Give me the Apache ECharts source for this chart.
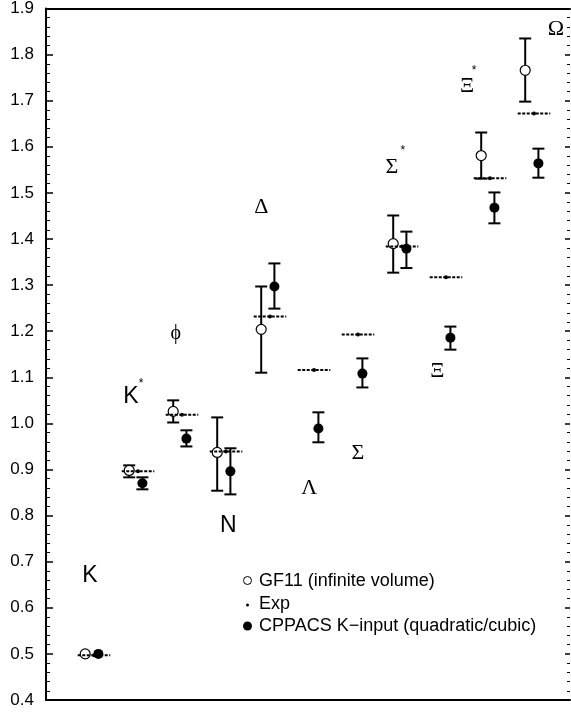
<!DOCTYPE html>
<html>
<head>
<meta charset="utf-8">
<script src="https://cdn.jsdelivr.net/npm/echarts@6/dist/echarts.min.js"></script>
<style>
  html, body { margin: 0; padding: 0; background: #fff; }
  #chart { width: 571px; height: 712px; }
</style>
</head>
<body>
<div id="chart"></div>
<script>
// hadron spectrum, masses in GeV
var particles = ['K', 'K*', 'ϕ', 'N', 'Δ', 'Λ', 'Σ', 'Σ*', 'Ξ', 'Ξ*', 'Ω'];
var expMass = [0.497, 0.896, 1.019, 0.939, 1.232, 1.116, 1.193, 1.384, 1.317, 1.532, 1.672];
// GF11 (infinite volume), null = not computed
var gf11Mass = [0.5, 0.898, 1.026, 0.937, 1.204, null, null, 1.390, null, 1.581, 1.766];
var gf11Lo   = [null, 0.883, 1.002, 0.854, 1.110, null, null, 1.327, null, 1.531, 1.698];
var gf11Hi   = [null, 0.909, 1.050, 1.013, 1.297, null, null, 1.451, null, 1.631, 1.835];
// CPPACS K-input
var cppacsMass = [0.5, 0.870, 0.967, 0.896, 1.297, 0.989, 1.108, 1.379, 1.186, 1.468, 1.564];
var cppacsLo   = [null, 0.857, 0.950, 0.846, 1.249, 0.959, 1.078, 1.337, 1.160, 1.434, 1.533];
var cppacsHi   = [null, 0.883, 0.985, 0.946, 1.347, 1.024, 1.141, 1.416, 1.210, 1.501, 1.596];
var yMin = 0.4, yMax = 1.9, yStep = 0.1;

// layout: where the particle names sit (axis units) and the offsets of the two data sets
var gf11Shift = -0.2, cppacsShift = 0.1, expHalf = 0.37;
var labelAt = [[-0.09, 0.670], [0.84, 1.058], [1.86, 1.195], [3.05, 0.779], [3.80, 1.470],
               [4.89, 0.859], [6.0, 0.935], [6.77, 1.555], [7.8, 1.113], [8.48, 1.731], [10.5, 1.854]];
var starAt = { 'K*': [1.07, 1.087], 'Σ*': [7.02, 1.592], 'Ξ*': [8.64, 1.766] };

var myChart = echarts.init(document.getElementById('chart'));
var sans = 'Liberation Sans, Arial, Helvetica, sans-serif';
var serif = 'Liberation Serif, Times New Roman, serif';

function errorBar(params, api) {
  var x = api.value(0);
  var top = api.coord([x, api.value(2)]);
  var bot = api.coord([x, api.value(1)]);
  var hw = 6;
  var st = { stroke: '#000', lineWidth: 2 };
  return {
    type: 'group',
    children: [
      { type: 'line', shape: { x1: top[0], y1: top[1], x2: bot[0], y2: bot[1] }, style: st },
      { type: 'line', shape: { x1: top[0] - hw, y1: top[1], x2: top[0] + hw, y2: top[1] }, style: st },
      { type: 'line', shape: { x1: bot[0] - hw, y1: bot[1], x2: bot[0] + hw, y2: bot[1] }, style: st }
    ]
  };
}

function expLine(params, api) {
  var x = api.value(0), m = api.value(1);
  var a = api.coord([x - expHalf, m]);
  var b = api.coord([x + expHalf, m]);
  var c = api.coord([x, m]);
  return {
    type: 'group',
    children: [
      { type: 'line', shape: { x1: a[0], y1: a[1], x2: b[0], y2: b[1] },
        style: { stroke: '#000', lineWidth: 2, lineDash: [3, 1.5] } },
      { type: 'circle', shape: { cx: c[0], cy: c[1], r: 2 }, style: { fill: '#000' } }
    ]
  };
}

function barData(mass, lo, hi, shift) {
  var out = [];
  for (var i = 0; i < mass.length; i++) {
    if (mass[i] != null && lo[i] != null) out.push([i + shift, lo[i], hi[i]]);
  }
  return out;
}
function pointData(mass, shift) {
  var out = [];
  for (var i = 0; i < mass.length; i++) {
    if (mass[i] != null) out.push([i + shift, mass[i]]);
  }
  return out;
}

var nameData = particles.map(function (p, i) {
  var base = p.replace('*', '');
  var isLatin = (base === 'K' || base === 'N');
  return {
    value: labelAt[i],
    label: {
      formatter: base,
      fontFamily: isLatin ? sans : serif,
      fontSize: isLatin ? 23 : (base === 'ϕ' ? 20 : 22)
    }
  };
});
var starData = [];
for (var key in starAt) starData.push({ value: starAt[key] });

var xMin = -1.0909, xMax = 10.818;

var option = {
  animation: false,
  backgroundColor: '#fff',
  grid: { left: 46, right: 1, top: 8, bottom: 12 },
  xAxis: [
    { type: 'value', min: xMin, max: xMax, position: 'bottom',
      axisLine: { show: true, onZero: false, lineStyle: { color: '#000', width: 2 } },
      axisTick: { show: false }, axisLabel: { show: false }, splitLine: { show: false } },
    { type: 'value', min: xMin, max: xMax, position: 'top',
      axisLine: { show: true, onZero: false, lineStyle: { color: '#000', width: 2 } },
      axisTick: { show: false }, axisLabel: { show: false }, splitLine: { show: false } }
  ],
  yAxis: [
    { type: 'value', min: yMin, max: yMax, interval: yStep, position: 'left',
      axisLine: { show: true, onZero: false, lineStyle: { color: '#000', width: 2 } },
      axisTick: { show: true, inside: true, length: 7, lineStyle: { color: '#000', width: 1.5 } },
      minorTick: { show: true, splitNumber: 5, length: 4, lineStyle: { color: '#000', width: 1 } },
      axisLabel: { color: '#000', fontSize: 17, fontFamily: sans, margin: 12,
        formatter: function (v) { return v.toFixed(1); } },
      splitLine: { show: false } },
    { type: 'value', min: yMin, max: yMax, interval: yStep, position: 'right',
      axisLine: { show: false, onZero: false },
      axisTick: { show: true, inside: true, length: 5, lineStyle: { color: '#000', width: 1.5 } },
      minorTick: { show: true, splitNumber: 5, length: 3, lineStyle: { color: '#000', width: 1 } },
      axisLabel: { show: false }, splitLine: { show: false } }
  ],
  series: [
    { name: 'GF11 err', type: 'custom', renderItem: errorBar, z: 2,
      data: barData(gf11Mass, gf11Lo, gf11Hi, gf11Shift) },
    { name: 'CPPACS err', type: 'custom', renderItem: errorBar, z: 2,
      data: barData(cppacsMass, cppacsLo, cppacsHi, cppacsShift) },
    { name: 'GF11 (infinite volume)', type: 'scatter', symbol: 'circle', symbolSize: 10, z: 3,
      itemStyle: { color: '#fff', borderColor: '#000', borderWidth: 1.2, opacity: 1 },
      data: pointData(gf11Mass, gf11Shift) },
    { name: 'Exp', type: 'custom', renderItem: expLine, z: 4,
      data: pointData(expMass, 0) },
    { name: 'CPPACS K−input (quadratic/cubic)', type: 'scatter', symbol: 'circle', symbolSize: 10, z: 5,
      itemStyle: { color: '#000', opacity: 1 },
      data: pointData(cppacsMass, cppacsShift) },
    { name: 'names', type: 'scatter', symbolSize: 0, z: 6, silent: true,
      itemStyle: { opacity: 1 },
      label: { show: true, position: 'inside', color: '#000', opacity: 1 },
      data: nameData },
    { name: 'stars', type: 'scatter', symbolSize: 0, z: 6, silent: true,
      itemStyle: { opacity: 1 },
      label: { show: true, position: 'inside', color: '#000', opacity: 1, formatter: '*', fontSize: 12, fontFamily: sans },
      data: starData }
  ],
  graphic: [
    { type: 'circle', left: 243, top: 576, shape: { r: 4 }, style: { fill: '#fff', stroke: '#000', lineWidth: 1 } },
    { type: 'text', left: 259, top: 572, style: { text: 'GF11 (infinite volume)', font: '18px ' + sans, fill: '#000' } },
    { type: 'circle', left: 246, top: 603.5, shape: { r: 1.5 }, style: { fill: '#000' } },
    { type: 'text', left: 259, top: 595, style: { text: 'Exp', font: '18px ' + sans, fill: '#000' } },
    { type: 'circle', left: 243, top: 621.5, shape: { r: 4.5 }, style: { fill: '#000' } },
    { type: 'text', left: 259, top: 617, style: { text: 'CPPACS K−input (quadratic/cubic)', font: '18px ' + sans, fill: '#000' } }
  ]
};

myChart.setOption(option);
window.addEventListener('resize', function () {
  myChart.resize();
});
</script>
</body>
</html>
